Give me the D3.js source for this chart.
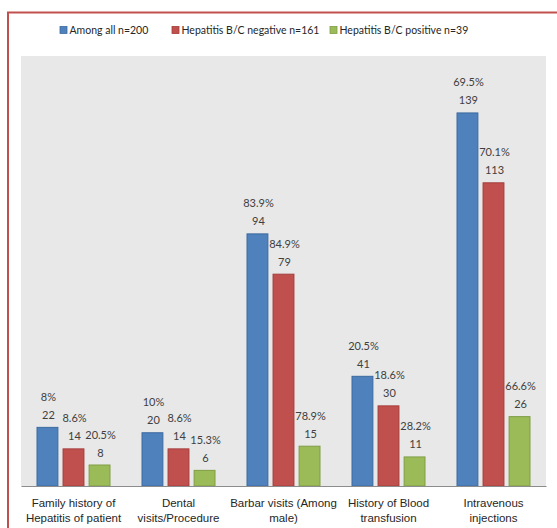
<!DOCTYPE html>
<html><head><meta charset="utf-8">
<script src="https://cdn.jsdelivr.net/npm/d3@7"></script>
<style>body{margin:0;background:#fff;}svg{display:block;font-family:Lato, "Open Sans", sans-serif;}</style>
</head><body>
<script>
const categories = [
  ["Family history of", "Hepatitis of patient"],
  ["Dental", "visits/Procedure"],
  ["Barbar visits (Among", "male)"],
  ["History of Blood", "transfusion"],
  ["Intravenous", "injections"]
];
const seriesNames = ["Among all n=200", "Hepatitis B/C negative n=161", "Hepatitis B/C positive n=39"];
const seriesColors = ["#4f81bd", "#c0504d", "#9bbb59"];
const seriesStroke = ["#3c6aa0", "#a43e3b", "#7f9d45"];
const countsAll = [22, 20, 94, 41, 139];
const countsNeg = [14, 14, 79, 30, 113];
const countsPos = [8, 6, 15, 11, 26];
const pctAll = ["8%", "10%", "83.9%", "20.5%", "69.5%"];
const pctNeg = ["8.6%", "8.6%", "84.9%", "18.6%", "70.1%"];
const pctPos = ["20.5%", "15.3%", "78.9%", "28.2%", "66.6%"];

const counts = [countsAll, countsNeg, countsPos];
const pcts = [pctAll, pctNeg, pctPos];

const W = 557, H = 528;
const svg = d3.select("body").append("svg").attr("width", W).attr("height", H);

// outer border
svg.append("rect").attr("x", 8).attr("y", 12.5).attr("width", 600).attr("height", 600)
  .attr("fill", "none").attr("stroke", "#c0504d").attr("stroke-width", 2);

const plot = {left: 21, right: 546, top: 56, bottom: 486};
svg.append("rect").attr("x", plot.left).attr("y", plot.top)
  .attr("width", plot.right - plot.left).attr("height", plot.bottom - plot.top)
  .attr("fill", "#e8e8e8");

const catIdx = d3.range(categories.length);
const x0 = d3.scaleBand().domain(catIdx).range([plot.left, plot.right]).padding(0);
const x1 = d3.scaleBand().domain(d3.range(3)).range([15.5, 89.5]).paddingInner(0.16).paddingOuter(0);
const y = d3.scaleLinear().domain([0, 160]).range([plot.bottom, plot.top]);

const groups = svg.selectAll("g.grp").data(catIdx).join("g")
  .attr("transform", i => `translate(${x0(i)},0)`);

for (let s = 0; s < 3; s++) {
  groups.append("rect")
    .attr("x", x1(s) + 0.5)
    .attr("y", i => y(counts[s][i]) + 0.5)
    .attr("width", x1.bandwidth() - 1)
    .attr("height", i => y(0) - y(counts[s][i]) - 0.5)
    .attr("fill", seriesColors[s])
    .attr("stroke", seriesStroke[s])
    .attr("stroke-width", 1);
  groups.append("text")
    .attr("x", x1(s) + x1.bandwidth() / 2 + 1)
    .attr("y", i => y(counts[s][i]) - 8)
    .attr("text-anchor", "middle").attr("font-size", 11).attr("fill", "#404040")
    .text(i => counts[s][i]);
  groups.append("text")
    .attr("x", x1(s) + x1.bandwidth() / 2 + 1)
    .attr("y", i => y(counts[s][i]) - 26)
    .attr("text-anchor", "middle").attr("font-size", 11).attr("fill", "#404040")
    .text(i => pcts[s][i]);
}

// axis
const xAxis = d3.axisBottom(x0).tickSize(0).tickFormat(() => "");
const ax = svg.append("g").attr("transform", `translate(0,${plot.bottom})`).call(xAxis);
ax.select(".domain").attr("stroke", "#8c8c8c").attr("stroke-width", 1.2);
ax.selectAll(".tick").each(function(i) {
  const t = d3.select(this).append("text").attr("fill", "#262626").attr("font-size", 11.5)
    .attr("text-anchor", "middle");
  categories[i].forEach((line, k) => {
    t.append("tspan").attr("x", 0).attr("y", 21 + k * 15).text(line);
  });
});

// legend
const legX = [60, 172, 330];
const leg = svg.append("g");
seriesNames.forEach((n, s) => {
  leg.append("rect").attr("x", legX[s]).attr("y", 26.5).attr("width", 7).attr("height", 7)
    .attr("fill", seriesColors[s]).attr("stroke", seriesStroke[s]).attr("stroke-width", 0.8);
  leg.append("text").attr("x", legX[s] + 9.5).attr("y", 34).attr("font-size", 10.5)
    .attr("fill", "#262626").text(n);
});
</script>
</body></html>
